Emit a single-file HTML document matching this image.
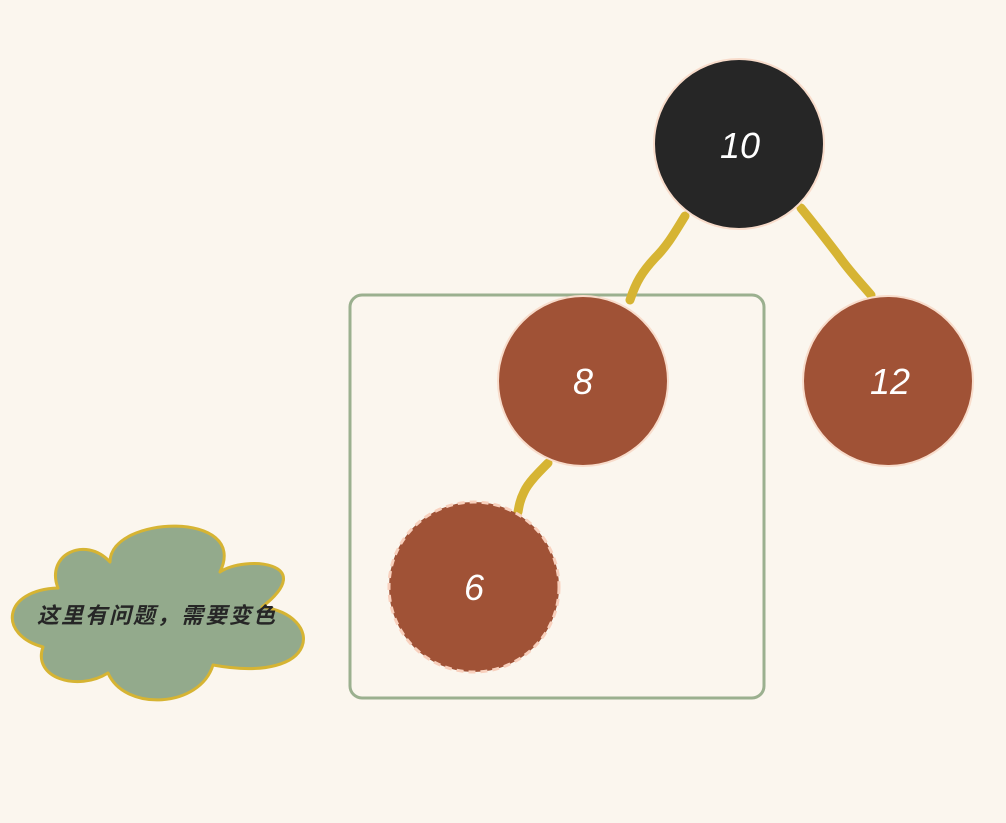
<!DOCTYPE html>
<html><head><meta charset="utf-8"><style>
html,body{margin:0;padding:0;background:#fbf6ee;}
svg{display:block}
text{font-family:"Liberation Sans","Noto Sans CJK SC",sans-serif;}
</style></head><body>
<svg width="1006" height="823" viewBox="0 0 1006 823" xmlns="http://www.w3.org/2000/svg">
<rect width="1006" height="823" fill="#fbf6ee"/>
<rect x="350" y="295" width="414" height="403" rx="12" fill="none" stroke="#9bb08f" stroke-width="3"/>
<path d="M685 216 C675 232 668 245 655 258 C642 272 636 282 630 300" fill="none" stroke="#d6b433" stroke-width="9" stroke-linecap="round"/>
<path d="M801 208 C815 225 825 238 838 255 C850 272 860 282 871 295" fill="none" stroke="#d6b433" stroke-width="9" stroke-linecap="round"/>
<path d="M548 463 C538 473 528 483 524 492 C520 500 519 506 518 512" fill="none" stroke="#d6b433" stroke-width="9" stroke-linecap="round"/>
<circle cx="739" cy="144" r="85" fill="#262626" stroke="#f8dccb" stroke-width="2"/>
<circle cx="583" cy="381" r="85" fill="#a05236" stroke="#f8dccb" stroke-width="2"/>
<circle cx="888" cy="381" r="85" fill="#a05236" stroke="#f8dccb" stroke-width="2"/>
<circle cx="474" cy="587" r="85" fill="#a05236" stroke="#f8d0bd" stroke-width="3" stroke-dasharray="7 5"/>
<g fill="#fff" font-size="36" font-style="italic" text-anchor="middle">
<text x="740" y="158">10</text>
<text x="583" y="394">8</text>
<text x="890" y="394">12</text>
<text x="474" y="600">6</text>
</g>
<path d="M58 588 C45 555 85 535 110 562 C110 515 250 510 220 572 C245 555 320 562 262 607 C325 615 322 685 213 665 C200 708 125 712 108 673 C78 692 32 678 43 647 C-2 635 2 590 58 588 Z" fill="#93aa8c" stroke="#d6b433" stroke-width="3" stroke-linejoin="round"/>
<text x="157" y="623" font-size="22" font-weight="bold" font-style="italic" fill="#262626" text-anchor="middle" letter-spacing="2">这里有问题，需要变色</text>
</svg>
</body></html>
